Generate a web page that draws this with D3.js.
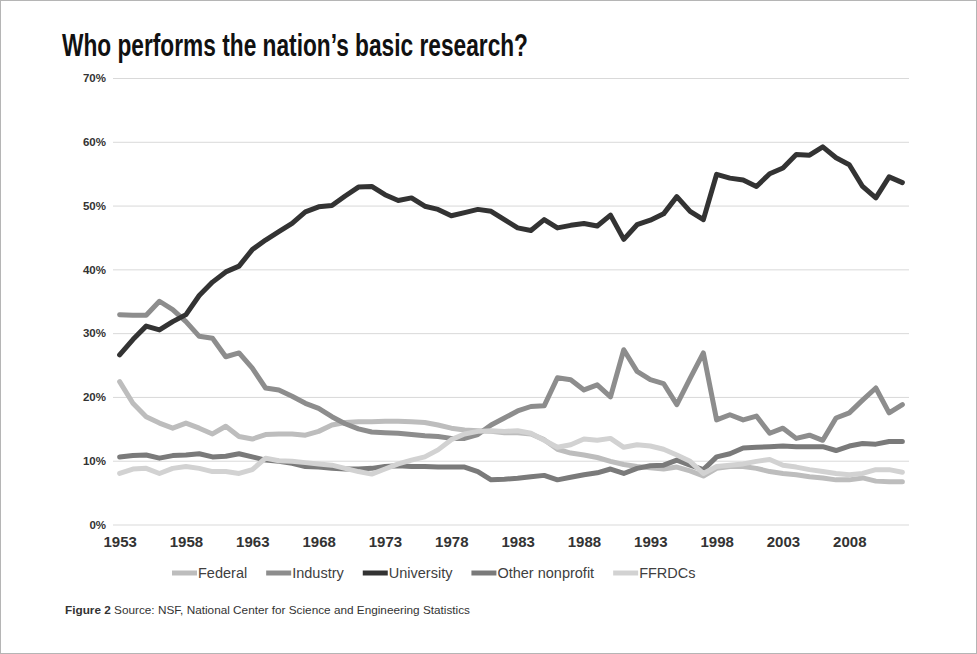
<!DOCTYPE html>
<html>
<head>
<meta charset="utf-8">
<script src="https://cdn.jsdelivr.net/npm/d3@7"></script>
<style>
  body { margin: 0; background: #fff; }
  svg { display: block; font-family: "Liberation Sans", Arial, sans-serif; }
  .axis path.domain { display: none; }
  .y-axis .tick line { stroke: #d9d9d9; stroke-width: 1; }
  .axis text { font-weight: bold; fill: #333; }
</style>
</head>
<body>
<svg id="chart"></svg>
<script>
// Categories (x axis)
const years = [1953, 1954, 1955, 1956, 1957, 1958, 1959, 1960, 1961, 1962,
               1963, 1964, 1965, 1966, 1967, 1968, 1969, 1970, 1971, 1972,
               1973, 1974, 1975, 1976, 1977, 1978, 1979, 1980, 1981, 1982,
               1983, 1984, 1985, 1986, 1987, 1988, 1989, 1990, 1991, 1992,
               1993, 1994, 1995, 1996, 1997, 1998, 1999, 2000, 2001, 2002,
               2003, 2004, 2005, 2006, 2007, 2008, 2009, 2010, 2011, 2012];

// Share of basic research by performer, in percent
const federal = [22.4, 19.0, 16.9, 15.9, 15.1, 15.9, 15.1, 14.2, 15.4, 13.8,
                 13.4, 14.1, 14.2, 14.2, 14.0, 14.6, 15.6, 16.0, 16.1, 16.1,
                 16.2, 16.2, 16.1, 16.0, 15.6, 15.1, 14.8, 14.7, 14.6, 14.4,
                 14.4, 14.2, 13.3, 11.8, 11.2, 10.9, 10.5, 9.9, 9.4, 9.1,
                 8.9, 8.7, 9.0, 8.4, 7.6, 8.8, 9.1, 9.1, 8.8, 8.3,
                 8.0, 7.8, 7.5, 7.3, 7.0, 7.0, 7.3, 6.8, 6.7, 6.7];
const industry = [32.9, 32.8, 32.8, 35.0, 33.7, 31.8, 29.5, 29.2, 26.3, 26.9,
                  24.5, 21.4, 21.1, 20.1, 19.0, 18.2, 16.9, 15.8, 15.0, 14.5,
                  14.4, 14.3, 14.1, 13.9, 13.8, 13.5, 13.5, 14.1, 15.6, 16.7,
                  17.8, 18.5, 18.6, 23.0, 22.7, 21.1, 21.9, 20.0, 27.4, 24.0,
                  22.7, 22.1, 18.8, 22.9, 26.9, 16.4, 17.2, 16.4, 17.0, 14.3,
                  15.1, 13.5, 14.0, 13.2, 16.7, 17.5, 19.5, 21.4, 17.5, 18.8];
const university = [26.6, 29.0, 31.1, 30.5, 31.8, 32.9, 35.9, 38.0, 39.6, 40.5,
                    43.1, 44.6, 45.9, 47.2, 49.0, 49.8, 50.0, 51.5, 52.9, 53.0,
                    51.7, 50.8, 51.2, 49.9, 49.4, 48.4, 48.9, 49.4, 49.1, 47.8,
                    46.5, 46.1, 47.8, 46.5, 46.9, 47.2, 46.8, 48.5, 44.7, 47.0,
                    47.7, 48.7, 51.4, 49.1, 47.8, 54.9, 54.3, 54.0, 53.0, 55.0,
                    55.9, 58.0, 57.9, 59.2, 57.5, 56.4, 53.0, 51.2, 54.5, 53.6];
const otherNonprofit = [10.6, 10.8, 10.9, 10.4, 10.8, 10.9, 11.1, 10.6, 10.7, 11.1,
                        10.6, 10.1, 9.9, 9.6, 9.1, 9.0, 8.8, 8.7, 8.7, 8.8,
                        9.1, 9.2, 9.1, 9.1, 9.0, 9.0, 9.0, 8.3, 7.0, 7.1,
                        7.25, 7.5, 7.7, 7.0, 7.4, 7.8, 8.1, 8.7, 8.0, 8.8,
                        9.2, 9.3, 10.1, 9.3, 8.6, 10.6, 11.1, 12.0, 12.1, 12.2,
                        12.3, 12.2, 12.2, 12.2, 11.6, 12.3, 12.7, 12.6, 13.0, 13.0];
const ffrdcs = [8.0, 8.7, 8.8, 8.0, 8.8, 9.1, 8.8, 8.3, 8.3, 8.0,
                8.6, 10.4, 10.0, 9.9, 9.7, 9.5, 9.3, 8.8, 8.3, 7.9,
                8.7, 9.5, 10.1, 10.6, 11.7, 13.3, 14.2, 14.6, 14.7, 14.6,
                14.7, 14.3, 13.2, 12.1, 12.5, 13.4, 13.2, 13.5, 12.1, 12.5,
                12.3, 11.8, 10.9, 9.9, 8.0, 9.1, 9.3, 9.5, 9.9, 10.2,
                9.3, 9.0, 8.6, 8.3, 8.0, 7.8, 8.0, 8.6, 8.6, 8.2];

const seriesNames = ['Federal', 'Industry', 'University', 'Other nonprofit', 'FFRDCs'];
const seriesValues = [federal, industry, university, otherNonprofit, ffrdcs];
const seriesColors = ['#bdbdbd', '#8d8d8d', '#333333', '#7a7a7a', '#d2d2d2'];

// Tick labels
const xTickLabels = ['1953', '1958', '1963', '1968', '1973', '1978', '1983', '1988', '1993', '1998', '2003', '2008'];
const yTickLabels = ['0%', '10%', '20%', '30%', '40%', '50%', '60%', '70%'];

const titleText = 'Who performs the nation\u2019s basic research?';
const sourceLabel = 'Figure 2';
const sourceText = ' Source: NSF, National Center for Science and Engineering Statistics';

class LineChart {

    constructor(_config, _data) {
        this.config = {
            parentElement: _config.parentElement,
            containerWidth: _config.containerWidth || 977,
            containerHeight: _config.containerHeight || 654,
            margin: { top: 78, bottom: 129.5, right: 68, left: 113 }
        }
        this.data = _data;
        this.initVis();
    }

    initVis() {
        let vis = this;

        vis.width = vis.config.containerWidth - vis.config.margin.left - vis.config.margin.right;
        vis.height = vis.config.containerHeight - vis.config.margin.top - vis.config.margin.bottom;

        vis.xScale = d3.scalePoint()
            .domain(years)
            .range([0, vis.width])
            .padding(0.5);

        vis.yScale = d3.scaleLinear()
            .domain([0, 70])
            .range([vis.height, 0]);

        vis.colorScale = d3.scaleOrdinal()
            .domain(seriesNames)
            .range(seriesColors);

        vis.svg = d3.select(vis.config.parentElement)
            .attr('width', vis.config.containerWidth)
            .attr('height', vis.config.containerHeight);

        // white card with thin border
        vis.svg.append('rect')
            .attr('x', 0.5)
            .attr('y', 0.5)
            .attr('width', vis.config.containerWidth - 1)
            .attr('height', vis.config.containerHeight - 1)
            .attr('fill', '#fff')
            .attr('stroke', '#b5b5b5');

        vis.svg.append('text')
            .attr('x', 62)
            .attr('y', 56)
            .attr('font-size', 31)
            .attr('font-weight', 'bold')
            .attr('fill', '#111')
            .attr('textLength', 466)
            .attr('lengthAdjust', 'spacingAndGlyphs')
            .text(titleText);

        vis.chart = vis.svg.append('g')
            .attr('transform', `translate(${vis.config.margin.left},${vis.config.margin.top})`);

        vis.yAxis = d3.axisLeft(vis.yScale)
            .tickValues(yTickLabels.map(d => parseFloat(d)))
            .tickSize(-vis.width)
            .tickPadding(7)
            .tickFormat(d => d + '%');

        vis.xAxis = d3.axisBottom(vis.xScale)
            .tickValues(xTickLabels.map(Number))
            .tickSize(0)
            .tickPadding(12);

        vis.yAxisG = vis.chart.append('g')
            .attr('class', 'axis y-axis');

        vis.xAxisG = vis.chart.append('g')
            .attr('class', 'axis x-axis')
            .attr('transform', `translate(0,${vis.height})`);

        vis.linesG = vis.chart.append('g');

        vis.legend = vis.svg.append('g')
            .attr('transform', 'translate(172,573)');

        vis.svg.append('text')
            .attr('x', 65)
            .attr('y', 614)
            .attr('font-size', 10.8)
            .attr('fill', '#333')
            .attr('textLength', 405)
            .attr('lengthAdjust', 'spacingAndGlyphs')
            .call(t => t.append('tspan').attr('font-weight', 'bold').text(sourceLabel))
            .call(t => t.append('tspan').text(sourceText));

        vis.updateVis();
    }

    updateVis() {
        let vis = this;
        vis.series = seriesNames.map((name, i) => ({
            name: name,
            values: years.map((yr, j) => ({ year: yr, val: vis.data[i][j] }))
        }));
        vis.renderVis();
    }

    renderVis() {
        let vis = this;

        vis.yAxisG.call(vis.yAxis)
            .selectAll('text')
            .attr('font-size', 11.5);

        vis.xAxisG.call(vis.xAxis)
            .selectAll('text')
            .attr('font-size', 15);

        vis.line = d3.line()
            .x(d => vis.xScale(d.year))
            .y(d => vis.yScale(d.val));

        vis.linesG.selectAll('.series-line')
            .data(vis.series)
            .join('path')
            .attr('class', 'series-line')
            .attr('fill', 'none')
            .attr('stroke', d => vis.colorScale(d.name))
            .attr('stroke-width', 5)
            .attr('stroke-linejoin', 'round')
            .attr('stroke-linecap', 'round')
            .attr('d', d => vis.line(d.values));

        // legend: swatch + label, laid out left to right
        let xPos = 0;
        seriesNames.forEach(name => {
            const item = vis.legend.append('g')
                .attr('transform', `translate(${xPos},0)`);
            item.append('line')
                .attr('x1', 0)
                .attr('x2', 25)
                .attr('stroke', vis.colorScale(name))
                .attr('stroke-width', 5);
            const label = item.append('text')
                .attr('x', 26)
                .attr('dy', '0.35em')
                .attr('font-size', 14.5)
                .attr('fill', '#404040')
                .text(name);
            xPos += 26 + label.node().getComputedTextLength() + 19;
        });
    }
}

new LineChart({ parentElement: '#chart' }, seriesValues);
</script>
</body>
</html>
